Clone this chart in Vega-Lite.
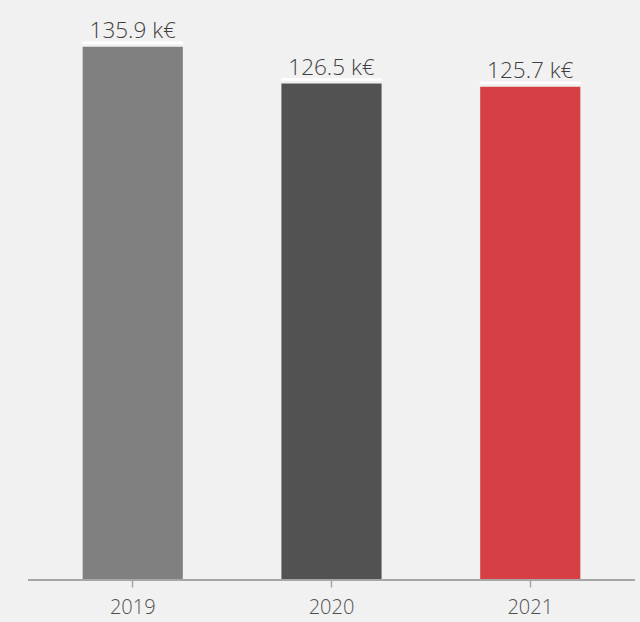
{
  "$schema": "https://vega.github.io/schema/vega-lite/v6.json",
  "width": 607,
  "height": 569,
  "autosize": {"type": "none"},
  "padding": {"left": 28, "top": 11, "right": 5, "bottom": 42},
  "background": "#f1f1f1",
  "config": {"view": {"stroke": null}, "font": "Open Sans"},
  "data": {"values": [
    {"year": "2019", "value": 135.9, "label": "135.9 k€", "color": "#808080"},
    {"year": "2020", "value": 126.5, "label": "126.5 k€", "color": "#525252"},
    {"year": "2021", "value": 125.7, "label": "125.7 k€", "color": "#d64045"}
  ]},
  "encoding": {
    "x": {"field": "year", "type": "nominal", "sort": null,
      "scale": {"paddingInner": 0.496, "paddingOuter": 0.275},
      "axis": {"title": null, "domain": false, "offset": -7, "tickSize": 14, "tickColor": "#a6a6a6", "tickWidth": 1.5,
        "labelAngle": 0, "labelFontSize": 20, "labelFontWeight": 300, "labelColor": "#505050", "labelPadding": 10, "labelFont": "Open Sans"}},
    "y": {"field": "value", "type": "quantitative", "scale": {"domain": [0, 145], "nice": false}, "axis": null}
  },
  "layer": [
    {"mark": {"type": "bar"}, "encoding": {"color": {"field": "color", "type": "nominal", "scale": null}}},
    {"mark": {"type": "tick", "color": "#ffffff", "thickness": 2.5, "size": 101, "yOffset": -4, "opacity": 1}},
    {"mark": {"type": "text", "baseline": "alphabetic", "dy": -9, "fontSize": 22.5, "fontWeight": 300, "color": "#404040", "font": "Open Sans"},
      "encoding": {"text": {"field": "label"}}},
    {"mark": {"type": "rule", "color": "#a6a6a6", "strokeWidth": 2}, "encoding": {"y": {"datum": 0}, "x": null}}
  ]
}
